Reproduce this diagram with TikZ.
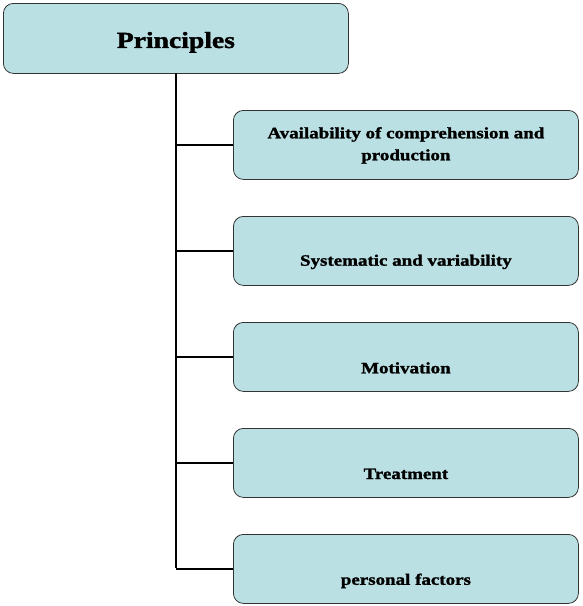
\documentclass[tikz,border=0pt]{standalone}
\usepackage{fontspec}
\setmainfont{Liberation Serif}[FakeStretch=1.2, BoldFeatures={FakeBold=1.5}]
\definecolor{boxfill}{HTML}{BBE0E3}
\begin{document}
\begin{tikzpicture}[x=1pt,y=-1pt,
  boxstyle/.style={draw=black!80, line width=0.8pt, fill=boxfill, rounded corners=10pt},
  lbl/.style={font=\bfseries\fontsize{15.8}{22}\selectfont, align=center, inner sep=0pt},
  conn/.style={line width=2.8pt, black}]
\useasboundingbox (0,0) rectangle (582,606);
\node[boxstyle, minimum width=345pt, minimum height=70pt, anchor=north west] (root) at (3,3) {};
\node[font=\bfseries\fontsize{23}{28}\selectfont] (roottext) at ([yshift=-4pt]root.center) {Principles};
\foreach \i/\y in {1/110,2/216,3/322,4/428,5/534}{
  \node[boxstyle, minimum width=345pt, minimum height=69pt, anchor=north west] (c\i) at (233,\y) {};
}
\node[lbl] (t1) at ([yshift=-0.5pt]c1.center) {Availability of comprehension and\\production};
\node[lbl] (t2) at ([yshift=-11pt]c2.center) {Systematic and variability};
\node[lbl] (t3) at ([yshift=-11pt]c3.center) {Motivation};
\node[lbl] (t4) at ([yshift=-11pt]c4.center) {Treatment};
\node[lbl] (t5) at ([yshift=-12pt]c5.center) {personal factors};
\coordinate (top) at (176,73);
\coordinate (bot) at (176,568);
\draw[conn] (top) -- (bot);
\foreach \i in {1,...,5}{
  \draw[conn] (176,0 |- c\i.west) -- (c\i.west);
}
\end{tikzpicture}
\end{document}
